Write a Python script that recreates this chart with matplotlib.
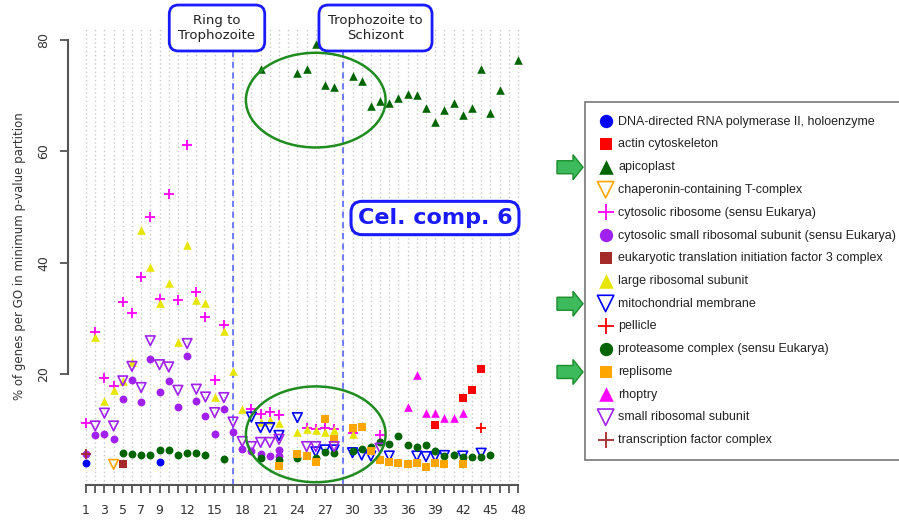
import matplotlib
matplotlib.use("Agg")
import matplotlib.pyplot as plt
from matplotlib.patches import Ellipse, FancyArrow

# ---- data ----
dna_pol_x = [1, 9]
dna_pol_y = [4.0, 4.2]

actin_x = [39, 42, 43, 44]
actin_y = [10.9, 15.8, 17.1, 20.9]

apicoplast_x = [20, 24, 25, 26, 27, 28, 30, 31, 32, 33, 34, 35, 36, 37, 38, 39, 40, 41, 42, 43, 44, 45, 46, 48]
apicoplast_y = [74.7, 74.1, 74.7, 79.3, 72.0, 71.5, 73.5, 72.6, 68.1, 69.0, 68.6, 69.5, 70.3, 70.2,
                67.7, 65.2, 67.4, 68.7, 66.6, 67.7, 74.7, 66.9, 71.1, 76.4]

chaperonin_x = [4]
chaperonin_y = [3.8]

cyto_ribo_x = [1, 2, 3, 4, 5, 6, 7, 8, 9, 10, 11, 12, 13, 14, 15, 16, 19, 20, 21, 22, 25, 26, 27, 28, 30, 33]
cyto_ribo_y = [11.2, 27.6, 19.4, 17.8, 32.9, 31.0, 37.5, 48.2, 33.5, 52.4, 33.3, 61.1, 34.7, 30.2, 18.9, 28.8,
               13.8, 12.9, 13.2, 12.6, 10.3, 10.2, 10.3, 10.2, 9.5, 9.1]

cyto_small_x = [1, 2, 3, 4, 5, 6, 7, 8, 9, 10, 11, 12, 13, 14, 15, 16, 17, 18, 19, 20, 21, 22, 22]
cyto_small_y = [5.7, 9.0, 9.2, 8.3, 15.5, 18.9, 15.0, 22.7, 16.8, 18.8, 14.1, 23.3, 15.2, 12.5, 9.2, 13.7,
                9.6, 6.5, 6.2, 5.65, 5.3, 6.4, 5.3]

eif3_x = [5]
eif3_y = [3.8]

large_ribo_x = [2, 3, 4, 5, 6, 7, 8, 9, 10, 11, 12, 13, 14, 15, 16, 17, 18, 20, 21, 22, 24, 25, 26, 27, 28, 30]
large_ribo_y = [26.7, 15.2, 17.2, 18.8, 22.1, 45.8, 39.2, 32.7, 36.3, 25.7, 43.1, 33.3, 32.8, 15.9, 27.8,
                20.5, 13.8, 11.4, 11.7, 11.2, 9.65, 10.1, 10.0, 9.65, 10.0, 9.3]

mito_x = [19, 20, 21, 22, 24, 26, 27, 28, 30, 31, 32, 34, 37, 38, 39, 40, 42, 44]
mito_y = [12.3, 10.4, 10.4, 9.0, 12.2, 6.05, 6.4, 6.4, 5.9, 5.5, 5.3, 5.3, 5.3, 5.2, 5.2, 5.4, 5.3, 5.8]

pellicle_x = [44]
pellicle_y = [10.4]

proteasome_x = [5, 6, 7, 8, 9, 10, 11, 12, 13, 14, 16, 20, 22, 24, 26, 27, 28, 30, 31, 32, 33, 34, 35, 36,
                37, 38, 39, 40, 41, 42, 43, 44, 45]
proteasome_y = [5.8, 5.6, 5.4, 5.4, 6.3, 6.3, 5.4, 5.9, 5.8, 5.4, 4.8, 4.9, 4.6, 4.9, 4.9, 6.1, 5.8, 6.2,
                6.5, 7.0, 7.9, 7.4, 8.9, 7.3, 7.0, 7.3, 6.2, 5.3, 5.4, 5.2, 5.2, 5.2, 5.4]

replisome_x = [22, 24, 25, 26, 27, 28, 30, 31, 32, 33, 34, 35, 36, 37, 38, 39, 40, 42]
replisome_y = [3.5, 5.65, 5.3, 4.3, 11.9, 8.3, 10.25, 10.5, 6.2, 4.6, 4.3, 4.1, 3.85, 4.1, 3.4, 4.0, 3.85, 3.85]

rhoptry_x = [36, 37, 38, 39, 40, 41, 42]
rhoptry_y = [14.1, 19.8, 13.1, 13.1, 12.2, 12.2, 13.1]

small_ribo_x = [2, 3, 4, 5, 6, 7, 8, 9, 10, 11, 12, 13, 14, 15, 16, 17, 18, 19, 20, 21, 22, 25, 26, 28, 33]
small_ribo_y = [10.7, 13.0, 10.7, 18.8, 21.4, 17.6, 26.0, 21.7, 21.3, 17.1, 25.5, 17.3, 15.9, 13.1, 15.8,
                11.4, 7.9, 7.0, 7.75, 7.75, 8.3, 7.0, 7.0, 7.0, 6.7]

tf_x = [1]
tf_y = [5.7]

x_ticks = list(range(1, 49))
x_tick_labels = [1, 3, 5, 7, 9, 12, 15, 18, 21, 24, 27, 30, 33, 36, 39, 42, 45, 48]
y_ticks = [20, 40, 60, 80]
phase_breaks = [17, 29]
arrow_rows = ["apicoplast", "mitochondrial membrane", "replisome"]

# label, x, y, marker, colour, filled
series = [
    ("DNA-directed RNA polymerase II, holoenzyme", dna_pol_x, dna_pol_y, "o", "#0000ff", True),
    ("actin cytoskeleton", actin_x, actin_y, "s", "#ff0000", True),
    ("apicoplast", apicoplast_x, apicoplast_y, "^", "#006400", True),
    ("chaperonin-containing T-complex", chaperonin_x, chaperonin_y, "v", "#ffa500", False),
    ("cytosolic ribosome (sensu Eukarya)", cyto_ribo_x, cyto_ribo_y, "+", "#ff00ff", True),
    ("cytosolic small ribosomal subunit (sensu Eukarya)", cyto_small_x, cyto_small_y, "o", "#a020f0", True),
    ("eukaryotic translation initiation factor 3 complex", eif3_x, eif3_y, "s", "#a52a2a", True),
    ("large ribosomal subunit", large_ribo_x, large_ribo_y, "^", "#e6e600", True),
    ("mitochondrial membrane", mito_x, mito_y, "v", "#0000ff", False),
    ("pellicle", pellicle_x, pellicle_y, "+", "#ff0000", True),
    ("proteasome complex (sensu Eukarya)", proteasome_x, proteasome_y, "o", "#006400", True),
    ("replisome", replisome_x, replisome_y, "s", "#ffa500", True),
    ("rhoptry", rhoptry_x, rhoptry_y, "^", "#ff00ff", True),
    ("small ribosomal subunit", small_ribo_x, small_ribo_y, "v", "#a020f0", False),
    ("transcription factor complex", tf_x, tf_y, "+", "#a52a2a", True),
]

W, H = 899, 522
fig = plt.figure(figsize=(W / 100, H / 100), dpi=100)
ax = fig.add_axes([68 / W, 1 - 485 / H, (535 - 68) / W, (485 - 28) / H])
ax.set_xlim(-0.96, 49.86)
ax.set_ylim(0.1, 82.15)

sizes = {"o": 32, "s": 28, "^": 38, "v": 48, "+": 48}
handles = []
for label, xs, ys, m, c, filled in series:
    if m == "+":
        h = ax.scatter(xs, ys, s=sizes[m], marker=m, color=c, linewidths=1.3, label=label, zorder=3)
    elif filled:
        h = ax.scatter(xs, ys, s=sizes[m], marker=m, color=c, linewidths=0, label=label, zorder=3)
    else:
        h = ax.scatter(xs, ys, s=sizes[m], marker=m, facecolors="none", edgecolors=c,
                       linewidths=1.2, label=label, zorder=3)
    handles.append(h)

# axes look (R style)
for s in ["top", "right"]:
    ax.spines[s].set_visible(False)
ax.spines["left"].set_bounds(20, 80)
ax.spines["bottom"].set_bounds(1, 48)
for s in ["left", "bottom"]:
    ax.spines[s].set_color("#555555")
    ax.spines[s].set_linewidth(1.5)
ax.set_xticks(x_ticks)
ax.set_xticklabels([str(t) if t in x_tick_labels else "" for t in x_ticks])
ax.set_yticks(y_ticks)
ax.set_yticklabels([str(t) for t in y_ticks], rotation=90, va="center")
ax.tick_params(axis="both", length=6, width=1.3, color="#555555", labelcolor="#333333", labelsize=9)
ax.tick_params(axis="x", pad=8)
ax.tick_params(axis="y", pad=7)
ax.grid(axis="x", color="#c8c8c8", linestyle=(0, (1, 2)), linewidth=1)
ax.set_axisbelow(True)
ax.set_ylabel("% of genes per GO in minimum p-value partition", fontsize=8.5, color="#333333", labelpad=8)

# phase boundaries
ax.vlines(phase_breaks, 0.1, 77.8, colors="#4a5cff", linestyles=(0, (4, 3)), linewidth=1.1, zorder=1)

# highlight ellipses
for cy, hgt in [(69.2, 17.0), (9.2, 17.2)]:
    ax.add_patch(Ellipse((26.0, cy), 15.2, hgt, fill=False, edgecolor="#1e8c1e", linewidth=1.8,
                         clip_on=False, zorder=4))

box = dict(boxstyle="round,pad=0.7,rounding_size=0.7", facecolor="white", edgecolor="#1a1aff", linewidth=2)
fig.text(217 / W, 1 - 28 / H, "Ring to\nTrophozoite", ha="center", va="center", fontsize=9.5,
         color="#222222", bbox=box, linespacing=1.15)
fig.text(375.5 / W, 1 - 28 / H, "Trophozoite to\nSchizont", ha="center", va="center", fontsize=9.5,
         color="#222222", bbox=box, linespacing=1.15)
fig.text(435 / W, 1 - 218 / H, "Cel. comp. 6", ha="center", va="center", fontsize=16, fontweight="bold",
         color="#1a1aff",
         bbox=dict(boxstyle="round,pad=0.3,rounding_size=0.5", facecolor="white", edgecolor="#1a1aff",
                   linewidth=2.2), zorder=5)

leg = fig.legend(handles=handles, loc="upper left", bbox_to_anchor=(585 / W, 1 - 102 / H),
                 frameon=True, fancybox=False, edgecolor="#555555",
                 prop={"family": "Liberation Sans", "size": 9},
                 markerscale=1.7, scatterpoints=1, labelspacing=0.86, handletextpad=0.45,
                 borderpad=1.1, handlelength=1.1, borderaxespad=0)
leg.get_frame().set_linewidth(1.2)
for t in leg.get_texts():
    t.set_color("#222222")

# green arrows pointing at the highlighted rows
fig.canvas.draw()
for t in leg.get_texts():
    if t.get_text() in arrow_rows:
        bb = t.get_window_extent()
        yc = (bb.y0 + bb.y1) / 2 / H
        fig.patches.append(FancyArrow(557 / W, yc, 26 / W, 0, width=13 / H, head_width=25 / H,
                                      head_length=10 / W, length_includes_head=True,
                                      facecolor="#3dbb5c", edgecolor="#1c8c2c", linewidth=1,
                                      transform=fig.transFigure))

fig.savefig("out.png", dpi=100)
